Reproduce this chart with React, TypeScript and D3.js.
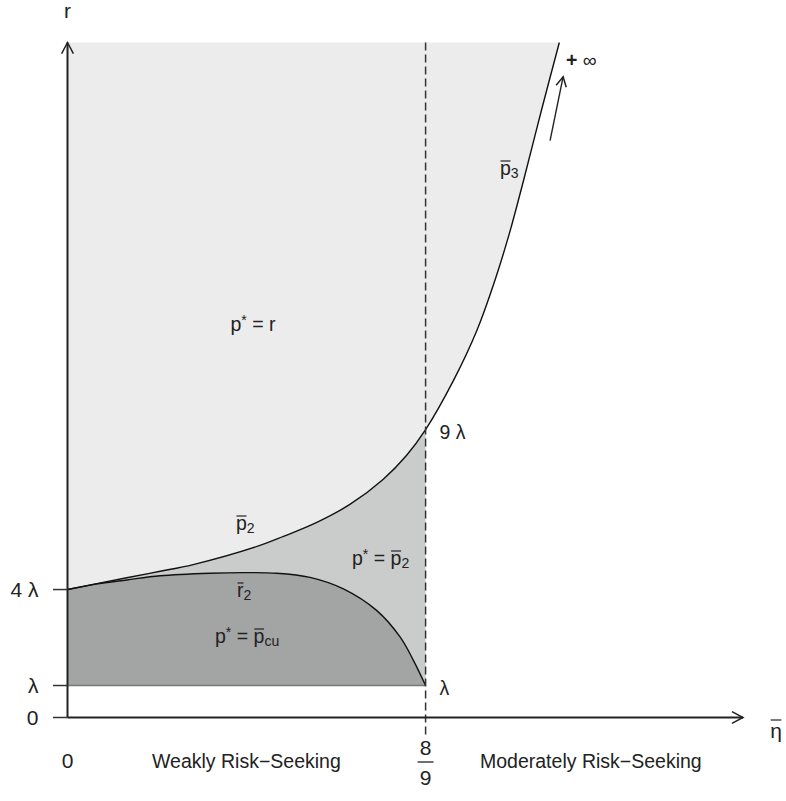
import React, { useEffect, useRef } from "react";
import * as d3 from "d3";

const WIDTH = 786;
const HEIGHT = 801;

// r in units of lambda, eta on the horizontal axis
const etaMax = 1.677;
const rMax = 21.1;
const etaCut = 0.889; // 8/9

// upper boundary p2 (eta, r)
const p2Eta = [0, 0.147, 0.23, 0.312, 0.478, 0.536, 0.619, 0.701, 0.784, 0.842, 0.889];
const p2R = [4.0, 4.37, 4.57, 4.78, 5.38, 5.66, 6.1, 6.66, 7.45, 8.2, 9.0];

// lower boundary r2
const r2Eta = [0, 0.07, 0.147, 0.23, 0.354, 0.437, 0.519, 0.602, 0.685, 0.768, 0.826, 0.859, 0.889];
const r2R = [4.0, 4.17, 4.3, 4.43, 4.51, 4.53, 4.51, 4.38, 4.02, 3.34, 2.51, 1.78, 1.0];

// p3 continues past 8/9 up to +infinity
const p3Eta = [0.889, 0.958, 1.016, 1.061, 1.099, 1.132, 1.176, 1.221];
const p3R = [9.0, 10.53, 12.09, 13.66, 15.22, 16.78, 18.95, 21.1];

const yTickValues = [0, 1, 4];
const yTickLabels = ["0", "λ", "4 λ"];
const cutLabelValues = [9, 1];
const cutLabelTexts = ["9 λ", "λ"];

const FONT = "'Liberation Sans', Arial, Helvetica, sans-serif";
const INK = "#222";

type Part = { t: string; over?: boolean; sub?: boolean; sup?: boolean; bold?: boolean };

function mathText(g, x, y, parts: Part[], size = 19.5, anchor = "start", overOff = 14) {
  const text = g
    .append("text")
    .attr("x", x)
    .attr("y", y)
    .attr("font-size", size)
    .attr("font-family", FONT)
    .attr("fill", INK)
    .attr("text-anchor", anchor)
    .style("white-space", "pre");
  let cur = 0;
  const spans = parts.map((p) => {
    const shift = p.sub ? size * 0.17 : p.sup ? -size * 0.3 : 0;
    const s = text.append("tspan").attr("dy", shift - cur).text(p.t);
    if (p.sub || p.sup) s.attr("font-size", size * 0.72);
    if (p.bold) s.attr("font-weight", "bold");
    cur = shift;
    return s;
  });
  parts.forEach((p, i) => {
    if (!p.over) return;
    const b = spans[i].node().getBBox();
    g.append("line")
      .attr("x1", b.x + 0.5)
      .attr("x2", b.x + b.width - 0.5)
      .attr("y1", y - overOff)
      .attr("y2", y - overOff)
      .attr("stroke", INK)
      .attr("stroke-width", 1.2);
  });
}

function arrowHead(g, x0, y0, x1, y1, len = 12.5, half = 28) {
  const ang = Math.atan2(y1 - y0, x1 - x0);
  const a = (half * Math.PI) / 180;
  const pts = [ang + Math.PI - a, ang + Math.PI + a].map((t) => [x1 + len * Math.cos(t), y1 + len * Math.sin(t)]);
  g.append("path")
    .attr("d", `M${pts[0][0]},${pts[0][1]}L${x1},${y1}L${pts[1][0]},${pts[1][1]}`)
    .attr("fill", "none")
    .attr("stroke", INK)
    .attr("stroke-width", 1.5);
}

function App() {
  const svgRef = useRef(null);

  useEffect(() => {
    const svg = d3.select(svgRef.current);
    svg.selectAll("*").remove();

    const x = d3.scaleLinear().domain([0, etaMax]).range([67.5, 743]);
    const y = d3.scaleLinear().domain([0, rMax]).range([717.5, 42.5]);
    const smooth = d3.curveCatmullRom.alpha(0.5);

    const p2 = p2Eta.map((e, i) => [e, p2R[i]]);
    const r2 = r2Eta.map((e, i) => [e, r2R[i]]);
    const p3 = p3Eta.map((e, i) => [e, p3R[i]]);
    const upper = p2.concat(p3.slice(1));

    const g = svg.append("g");

    // light region above p2 / p3
    g.append("path")
      .datum(upper)
      .attr("fill", "#ebeceb")
      .attr("d", d3.area().x((d) => x(d[0])).y0(y(rMax)).y1((d) => y(d[1])).curve(smooth));
    // mid region below p2
    g.append("path")
      .datum(p2)
      .attr("fill", "#cacbcb")
      .attr("d", d3.area().x((d) => x(d[0])).y0(y(1)).y1((d) => y(d[1])).curve(smooth));
    // dark region below r2
    g.append("path")
      .datum(r2)
      .attr("fill", "#a3a4a4")
      .attr("d", d3.area().x((d) => x(d[0])).y0(y(1)).y1((d) => y(d[1])).curve(smooth));

    // lambda floor
    g.append("line")
      .attr("x1", x(0))
      .attr("x2", x(etaCut))
      .attr("y1", y(1))
      .attr("y2", y(1))
      .attr("stroke", "#777")
      .attr("stroke-width", 1.5);

    const curve = d3.line().x((d) => x(d[0])).y((d) => y(d[1])).curve(smooth);
    g.append("path").datum(upper).attr("d", curve).attr("fill", "none").attr("stroke", "#111").attr("stroke-width", 1.4);
    g.append("path").datum(r2).attr("d", curve).attr("fill", "none").attr("stroke", "#111").attr("stroke-width", 1.4);

    // dashed boundary at 8/9
    g.append("line")
      .attr("x1", x(etaCut))
      .attr("x2", x(etaCut))
      .attr("y1", y(rMax))
      .attr("y2", 738)
      .attr("stroke", "#333")
      .attr("stroke-width", 1.5)
      .attr("stroke-dasharray", "8,4");

    // axes
    g.append("line").attr("x1", x(0)).attr("x2", x(0)).attr("y1", y(0)).attr("y2", y(rMax))
      .attr("stroke", INK).attr("stroke-width", 2);
    g.append("line").attr("x1", x(0)).attr("x2", x(etaMax)).attr("y1", y(0)).attr("y2", y(0))
      .attr("stroke", INK).attr("stroke-width", 2);
    arrowHead(g, x(0), y(0), x(0), y(rMax));
    arrowHead(g, x(0), y(0), x(etaMax), y(0));

    // y ticks
    yTickValues.forEach((v, i) => {
      g.append("line").attr("x1", x(0) - 14.5).attr("x2", x(0)).attr("y1", y(v)).attr("y2", y(v))
        .attr("stroke", "#333").attr("stroke-width", 1.5);
      g.append("text")
        .attr("x", 38.5)
        .attr("y", y(v) + 7.5)
        .attr("text-anchor", "end")
        .attr("font-size", 21)
        .attr("font-family", FONT)
        .attr("fill", INK)
        .text(yTickLabels[i]);
    });

    // labels at the dashed boundary
    cutLabelValues.forEach((v, i) => {
      g.append("text")
        .attr("x", x(etaCut) + 14)
        .attr("y", y(v) + 9)
        .attr("font-size", 19.5)
        .attr("font-family", FONT)
        .attr("fill", INK)
        .text(cutLabelTexts[i]);
    });

    // x tick labels
    g.append("text").attr("x", x(0)).attr("y", 768).attr("text-anchor", "middle")
      .attr("font-size", 21).attr("font-family", FONT).attr("fill", INK).text("0");
    g.append("text").attr("x", x(etaCut)).attr("y", 755).attr("text-anchor", "middle")
      .attr("font-size", 21).attr("font-family", FONT).attr("fill", INK).text("8");
    g.append("line").attr("x1", x(etaCut) - 8).attr("x2", x(etaCut) + 8).attr("y1", 762).attr("y2", 762)
      .attr("stroke", INK).attr("stroke-width", 1.3);
    g.append("text").attr("x", x(etaCut)).attr("y", 785).attr("text-anchor", "middle")
      .attr("font-size", 21).attr("font-family", FONT).attr("fill", INK).text("9");

    g.append("text").attr("x", 152).attr("y", 768).attr("font-size", 19.5)
      .attr("font-family", FONT).attr("fill", INK).text("Weakly Risk−Seeking");
    g.append("text").attr("x", 480).attr("y", 768).attr("font-size", 19.5)
      .attr("font-family", FONT).attr("fill", INK).text("Moderately Risk−Seeking");

    // axis titles
    g.append("text").attr("x", x(0)).attr("y", 18).attr("text-anchor", "middle")
      .attr("font-size", 21).attr("font-family", FONT).attr("fill", INK).text("r");
    mathText(g, 776, 738, [{ t: "η", over: true }], 21, "middle", 18);

    // region and curve labels
    mathText(g, 253, 331, [{ t: "p" }, { t: "*", sup: true }, { t: " = r" }], 19.5, "middle");
    mathText(g, 236, 530, [{ t: "p", over: true }, { t: "2", sub: true }]);
    mathText(g, 237, 597, [{ t: "r", over: true }, { t: "2", sub: true }]);
    mathText(g, 352, 565, [{ t: "p" }, { t: "*", sup: true }, { t: " = " }, { t: "p", over: true }, { t: "2", sub: true }]);
    mathText(g, 215, 643, [{ t: "p" }, { t: "*", sup: true }, { t: " = " }, { t: "p", over: true }, { t: "cu", sub: true }]);
    mathText(g, 500, 175, [{ t: "p", over: true }, { t: "3", sub: true }]);

    // arrow toward +infinity
    const a0 = [x(1.198), y(18.03)];
    const a1 = [x(1.2305), y(20.03)];
    g.append("line").attr("x1", a0[0]).attr("y1", a0[1]).attr("x2", a1[0]).attr("y2", a1[1])
      .attr("stroke", INK).attr("stroke-width", 1.4);
    arrowHead(g, a0[0], a0[1], a1[0], a1[1], 11, 28);
    mathText(g, 566, 67, [{ t: "+", bold: true }, { t: " ∞" }], 19.5);
  }, []);

  return (
    <svg
      ref={svgRef}
      width={WIDTH}
      height={HEIGHT}
      style={{ position: "absolute", left: 0, top: 0, background: "#fff" }}
    />
  );
}

export default App;
